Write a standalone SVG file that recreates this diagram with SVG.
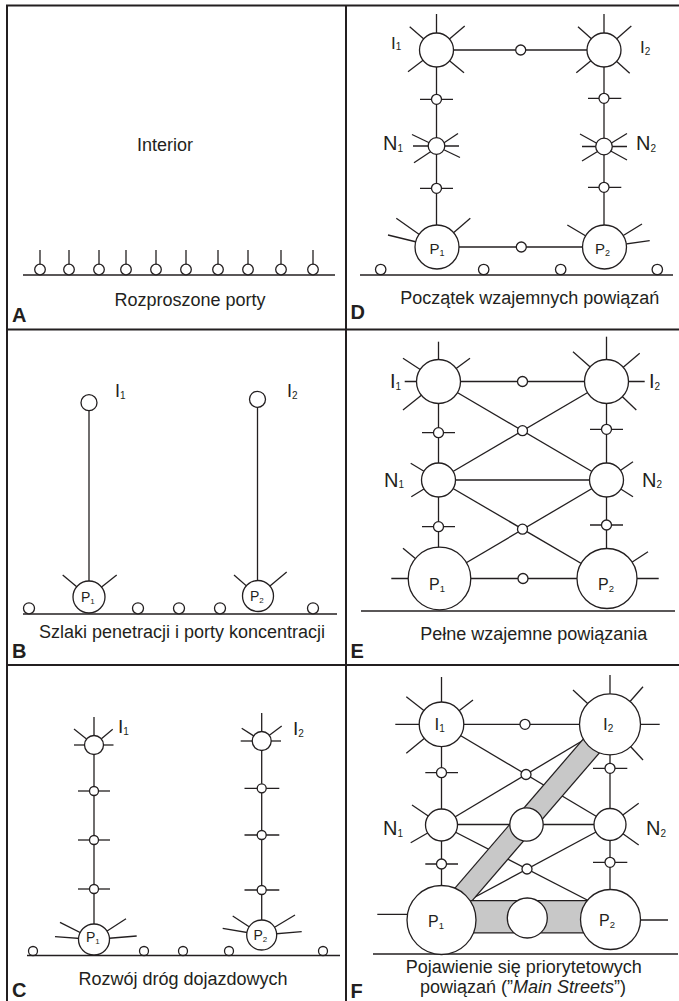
<svg xmlns="http://www.w3.org/2000/svg" width="679" height="1001" viewBox="0 0 679 1001">
<style>
.f{stroke:#231f20;stroke-width:2;fill:none}
.l{stroke:#231f20;stroke-width:1.3;fill:none}
.c{stroke:#231f20;stroke-width:1.3;fill:#fff}
.bk{stroke:#231f20;fill:none}
.gy{stroke:#c8c8c8;fill:none}
text{font-family:"Liberation Sans",Arial,Helvetica,sans-serif;fill:#231f20}
.cap{font-size:18px;text-anchor:middle}
.pl{font-size:20px;font-weight:bold}
.s{font-size:10px}
</style>
<rect x="0" y="0" width="679" height="1001" fill="#fff"/>
<g id="frame">
<line class="f" x1="6" y1="5.5" x2="679" y2="5.5"/>
<line class="f" x1="7" y1="5" x2="7" y2="1001"/>
<line class="f" x1="346" y1="5" x2="346" y2="1001"/>
<line class="f" x1="7" y1="329.5" x2="679" y2="329.5"/>
<line class="f" x1="7" y1="665" x2="679" y2="665"/>
</g>

<!-- Panel A -->
<g id="panel-A">
<g id="A-connectors">
<line class="l" x1="23" y1="275" x2="335" y2="275"/>
<line class="l" x1="40" y1="250" x2="40" y2="265"/>
<line class="l" x1="69" y1="250" x2="69" y2="265"/>
<line class="l" x1="99" y1="250" x2="99" y2="265"/>
<line class="l" x1="126" y1="250" x2="126" y2="265"/>
<line class="l" x1="156" y1="250" x2="156" y2="265"/>
<line class="l" x1="186" y1="250" x2="186" y2="265"/>
<line class="l" x1="218" y1="250" x2="218" y2="265"/>
<line class="l" x1="248" y1="250" x2="248" y2="265"/>
<line class="l" x1="281" y1="250" x2="281" y2="265"/>
<line class="l" x1="313" y1="250" x2="313" y2="265"/>
</g>
<g id="A-ports">
<circle class="c" cx="40" cy="269.5" r="5.3"/>
<circle class="c" cx="69" cy="269.5" r="5.3"/>
<circle class="c" cx="99" cy="269.5" r="5.3"/>
<circle class="c" cx="126" cy="269.5" r="5.3"/>
<circle class="c" cx="156" cy="269.5" r="5.3"/>
<circle class="c" cx="186" cy="269.5" r="5.3"/>
<circle class="c" cx="218" cy="269.5" r="5.3"/>
<circle class="c" cx="248" cy="269.5" r="5.3"/>
<circle class="c" cx="281" cy="269.5" r="5.3"/>
<circle class="c" cx="313" cy="269.5" r="5.3"/>
</g>
<text class="cap" x="165" y="151">Interior</text>
<text class="cap" x="190" y="306">Rozproszone porty</text>
<text class="pl" x="12" y="322">A</text>
</g>

<!-- Panel B -->
<g id="panel-B">
<g id="B-connectors">
<line class="l" x1="23" y1="614" x2="337" y2="614"/>
<line class="l" x1="89" y1="402.7" x2="89" y2="597"/>
<line class="l" x1="257.5" y1="399.3" x2="257.5" y2="596"/>
<line class="l" x1="62.7" y1="575" x2="89" y2="597"/>
<line class="l" x1="116.7" y1="575" x2="89" y2="597"/>
<line class="l" x1="234" y1="575" x2="258" y2="596"/>
<line class="l" x1="286.7" y1="572" x2="258" y2="596"/>
</g>
<g id="B-I1"><circle class="c" cx="89" cy="402.7" r="8"/><text x="115" y="397" font-size="18">I<tspan class="s" dy="1.5">1</tspan></text></g>
<g id="B-I2"><circle class="c" cx="257.5" cy="399.3" r="8"/><text x="287" y="397" font-size="18">I<tspan class="s" dy="1.5">2</tspan></text></g>
<g id="B-P1"><circle class="c" cx="89" cy="597" r="16"/><text x="81" y="601.5" font-size="14">P<tspan font-size="8" dy="2">1</tspan></text></g>
<g id="B-P2"><circle class="c" cx="258" cy="596" r="15.5"/><text x="250" y="600.5" font-size="14">P<tspan font-size="8" dy="2">2</tspan></text></g>
<g id="B-ports">
<circle class="c" cx="29" cy="608.3" r="5.5"/>
<circle class="c" cx="138" cy="608.3" r="5.5"/>
<circle class="c" cx="179" cy="608.3" r="5.5"/>
<circle class="c" cx="220" cy="608.3" r="5.5"/>
<circle class="c" cx="313" cy="608.3" r="5.5"/>
</g>
<text class="cap" x="182" y="638">Szlaki penetracji i porty koncentracji</text>
<text class="pl" x="12" y="658">B</text>
</g>

<!-- Panel C -->
<g id="panel-C">
<g id="C-connectors">
<line class="l" x1="27" y1="955.5" x2="340" y2="955.5"/>
<line class="l" x1="94" y1="745" x2="94" y2="939.5"/>
<line class="l" x1="261.7" y1="741" x2="261.7" y2="935"/>
<line class="l" x1="78" y1="791" x2="110" y2="791"/>
<line class="l" x1="78" y1="840" x2="110" y2="840"/>
<line class="l" x1="78" y1="889" x2="110" y2="889"/>
<line class="l" x1="244.5" y1="788.3" x2="279.3" y2="788.3"/>
<line class="l" x1="244.5" y1="835" x2="279.3" y2="835"/>
<line class="l" x1="244.5" y1="890" x2="279.3" y2="890"/>
</g>
<g id="C-I1">
<line class="l" x1="94" y1="717" x2="94" y2="745"/>
<line class="l" x1="74" y1="729" x2="94" y2="745"/>
<line class="l" x1="112.7" y1="729.3" x2="94" y2="745"/>
<line class="l" x1="74" y1="745" x2="94" y2="745"/>
<line class="l" x1="113.5" y1="745" x2="94" y2="745"/>
<circle class="c" cx="94" cy="745" r="9.5"/>
<text x="118" y="733" font-size="19">I<tspan class="s" dy="1.5">1</tspan></text>
</g>
<g id="C-I2">
<line class="l" x1="261.7" y1="713" x2="261.7" y2="741"/>
<line class="l" x1="241.7" y1="728.3" x2="261.7" y2="741"/>
<line class="l" x1="281.7" y1="726" x2="261.7" y2="741"/>
<line class="l" x1="240.7" y1="741" x2="261.7" y2="741"/>
<line class="l" x1="281" y1="741" x2="261.7" y2="741"/>
<circle class="c" cx="261.7" cy="741" r="9.5"/>
<text x="293" y="735" font-size="19">I<tspan class="s" dy="1.5">2</tspan></text>
</g>
<g id="C-small">
<circle class="c" cx="94" cy="791" r="4.5"/>
<circle class="c" cx="94" cy="840" r="4.5"/>
<circle class="c" cx="94" cy="889" r="4.5"/>
<circle class="c" cx="261.7" cy="788.3" r="4.5"/>
<circle class="c" cx="261.7" cy="835" r="4.5"/>
<circle class="c" cx="261.7" cy="890" r="4.5"/>
</g>
<g id="C-P1">
<line class="l" x1="60" y1="922.3" x2="94" y2="939.5"/>
<line class="l" x1="55" y1="936.7" x2="94" y2="939.5"/>
<line class="l" x1="126" y1="918.7" x2="94" y2="939.5"/>
<line class="l" x1="136.7" y1="936" x2="94" y2="939.5"/>
<circle class="c" cx="94" cy="939.5" r="15.5"/>
<text x="86" y="942" font-size="14">P<tspan font-size="8" dy="2">1</tspan></text>
</g>
<g id="C-P2">
<line class="l" x1="232.7" y1="916" x2="261.7" y2="935"/>
<line class="l" x1="222.7" y1="928.3" x2="261.7" y2="935"/>
<line class="l" x1="295" y1="915" x2="261.7" y2="935"/>
<line class="l" x1="301.7" y1="931.7" x2="261.7" y2="935"/>
<circle class="c" cx="261.7" cy="935" r="15"/>
<text x="253.5" y="939.5" font-size="14">P<tspan font-size="8" dy="2">2</tspan></text>
</g>
<g id="C-ports">
<circle class="c" cx="33" cy="951" r="4.5"/>
<circle class="c" cx="144" cy="951" r="4.5"/>
<circle class="c" cx="183" cy="951" r="4.5"/>
<circle class="c" cx="229" cy="951" r="4.5"/>
<circle class="c" cx="323" cy="951" r="4.5"/>
</g>
<text class="cap" x="183" y="985">Rozwój dróg dojazdowych</text>
<text class="pl" x="12" y="997">C</text>
</g>

<!-- Panel D -->
<g id="panel-D">
<g id="D-connectors">
<line class="l" x1="360" y1="275" x2="673" y2="275"/>
<line class="l" x1="436.5" y1="50" x2="604" y2="50"/>
<line class="l" x1="437" y1="247" x2="604.5" y2="247"/>
<line class="l" x1="436.5" y1="50" x2="436.5" y2="247"/>
<line class="l" x1="604" y1="50" x2="604" y2="247"/>
<line class="l" x1="420" y1="99.3" x2="453" y2="99.3"/>
<line class="l" x1="420" y1="188.3" x2="453" y2="188.3"/>
<line class="l" x1="588" y1="98.3" x2="621.3" y2="98.3"/>
<line class="l" x1="588" y1="187.3" x2="621.3" y2="187.3"/>
</g>
<g id="D-I1">
<line class="l" x1="436.5" y1="14" x2="436.5" y2="50"/>
<line class="l" x1="409.7" y1="26.7" x2="436.5" y2="50"/>
<line class="l" x1="464.7" y1="26" x2="436.5" y2="50"/>
<line class="l" x1="408" y1="71.7" x2="436.5" y2="50"/>
<line class="l" x1="464" y1="72.7" x2="436.5" y2="50"/>
<circle class="c" cx="436.5" cy="50" r="17"/>
<text x="391" y="48.5" font-size="17">I<tspan class="s" dy="1.5">1</tspan></text>
</g>
<g id="D-I2">
<line class="l" x1="604" y1="14" x2="604" y2="50"/>
<line class="l" x1="578" y1="26.7" x2="604" y2="50"/>
<line class="l" x1="631.3" y1="26" x2="604" y2="50"/>
<line class="l" x1="576.3" y1="72.7" x2="604" y2="50"/>
<line class="l" x1="629.7" y1="73.3" x2="604" y2="50"/>
<circle class="c" cx="604" cy="50" r="17"/>
<text x="640" y="53" font-size="17">I<tspan class="s" dy="1.5">2</tspan></text>
</g>
<g id="D-mid">
<circle class="c" cx="520.7" cy="50" r="5"/>
<circle class="c" cx="521.3" cy="247" r="5"/>
<circle class="c" cx="436.5" cy="99.3" r="5"/>
<circle class="c" cx="436.5" cy="188.3" r="5"/>
<circle class="c" cx="604" cy="98.3" r="5"/>
<circle class="c" cx="604" cy="187.3" r="5"/>
</g>
<g id="D-N1">
<line class="l" x1="412" y1="134.5" x2="460" y2="157.5"/>
<line class="l" x1="458" y1="133.5" x2="414" y2="162.7"/>
<line class="l" x1="413" y1="146" x2="459" y2="146"/>
<circle class="c" cx="436.5" cy="146" r="8.3"/>
<text x="383" y="150" font-size="20">N<tspan class="s" dy="1.5">1</tspan></text>
</g>
<g id="D-N2">
<line class="l" x1="580" y1="134" x2="627" y2="160"/>
<line class="l" x1="627" y1="133.5" x2="582" y2="161"/>
<line class="l" x1="582" y1="146.5" x2="627" y2="146.5"/>
<circle class="c" cx="604" cy="146.5" r="8.3"/>
<text x="636" y="150" font-size="20">N<tspan class="s" dy="1.5">2</tspan></text>
</g>
<g id="D-P1">
<line class="l" x1="396.3" y1="218.3" x2="437" y2="247"/>
<line class="l" x1="388" y1="235" x2="437" y2="247"/>
<line class="l" x1="470.3" y1="218.3" x2="437" y2="247"/>
<circle class="c" cx="437" cy="247" r="22"/>
<text x="429.5" y="253.5" font-size="15">P<tspan font-size="9" dy="2">1</tspan></text>
</g>
<g id="D-P2">
<line class="l" x1="567.3" y1="225" x2="604.5" y2="247"/>
<line class="l" x1="642" y1="224" x2="604.5" y2="247"/>
<line class="l" x1="649.7" y1="240.7" x2="604.5" y2="247"/>
<circle class="c" cx="604.5" cy="247" r="22"/>
<text x="595" y="253.5" font-size="15">P<tspan font-size="9" dy="2">2</tspan></text>
</g>
<g id="D-ports">
<circle class="c" cx="380.7" cy="269.5" r="5.2"/>
<circle class="c" cx="483.7" cy="269.5" r="5.2"/>
<circle class="c" cx="560.7" cy="269.5" r="5.2"/>
<circle class="c" cx="657.3" cy="269.5" r="5.2"/>
</g>
<text class="cap" x="529.7" y="303.5">Początek wzajemnych powiązań</text>
<text class="pl" x="350.5" y="319">D</text>
</g>

<!-- Panel E -->
<g id="panel-E">
<g id="E-connectors">
<line class="l" x1="361" y1="611" x2="675" y2="611"/>
<line class="l" x1="438.5" y1="381.5" x2="606.5" y2="381.5"/>
<line class="l" x1="438.5" y1="480" x2="606.5" y2="480"/>
<line class="l" x1="439.5" y1="578.5" x2="607" y2="578.5"/>
<line class="l" x1="438.5" y1="381.5" x2="438.5" y2="578.5"/>
<line class="l" x1="606.5" y1="381.5" x2="606.5" y2="578.5"/>
<line class="l" x1="438.5" y1="381.5" x2="606.5" y2="480"/>
<line class="l" x1="606.5" y1="381.5" x2="438.5" y2="480"/>
<line class="l" x1="438.5" y1="480" x2="607" y2="578.5"/>
<line class="l" x1="606.5" y1="480" x2="439.5" y2="578.5"/>
<line class="l" x1="422" y1="432.7" x2="455" y2="432.7"/>
<line class="l" x1="422" y1="526.7" x2="455" y2="526.7"/>
<line class="l" x1="590" y1="429.3" x2="623" y2="429.3"/>
<line class="l" x1="590" y1="525" x2="623" y2="525"/>
</g>
<g id="E-I1">
<line class="l" x1="438.5" y1="341.7" x2="438.5" y2="381.5"/>
<line class="l" x1="403" y1="358.3" x2="438.5" y2="381.5"/>
<line class="l" x1="470" y1="358.3" x2="438.5" y2="381.5"/>
<line class="l" x1="404.7" y1="381.5" x2="438.5" y2="381.5"/>
<line class="l" x1="403" y1="410" x2="438.5" y2="381.5"/>
<circle class="c" cx="438.5" cy="381.5" r="22"/>
<text x="390" y="388.3" font-size="20">I<tspan class="s" dy="1.5">1</tspan></text>
</g>
<g id="E-I2">
<line class="l" x1="606.5" y1="336.7" x2="606.5" y2="381.5"/>
<line class="l" x1="573" y1="351.7" x2="606.5" y2="381.5"/>
<line class="l" x1="639.7" y1="353.3" x2="606.5" y2="381.5"/>
<line class="l" x1="644.7" y1="381.5" x2="606.5" y2="381.5"/>
<line class="l" x1="636.3" y1="410" x2="606.5" y2="381.5"/>
<circle class="c" cx="606.5" cy="381.5" r="22"/>
<text x="649" y="388.3" font-size="20">I<tspan class="s" dy="1.5">2</tspan></text>
</g>
<g id="E-N1">
<line class="l" x1="410.7" y1="463.3" x2="438.5" y2="480"/>
<line class="l" x1="411.3" y1="496.7" x2="438.5" y2="480"/>
<circle class="c" cx="438.5" cy="480" r="17"/>
<text x="384" y="486.7" font-size="20">N<tspan class="s" dy="1.5">1</tspan></text>
</g>
<g id="E-N2">
<line class="l" x1="633" y1="461.7" x2="606.5" y2="480"/>
<line class="l" x1="633" y1="496.7" x2="606.5" y2="480"/>
<circle class="c" cx="606.5" cy="480" r="17"/>
<text x="642" y="486.7" font-size="20">N<tspan class="s" dy="1.5">2</tspan></text>
</g>
<g id="E-P1">
<line class="l" x1="403" y1="548.3" x2="439.5" y2="578.5"/>
<line class="l" x1="391.3" y1="578.5" x2="439.5" y2="578.5"/>
<circle class="c" cx="439.5" cy="578.5" r="31.3"/>
<text x="429" y="590" font-size="16">P<tspan font-size="9.5" dy="2">1</tspan></text>
</g>
<g id="E-P2">
<line class="l" x1="648" y1="551.7" x2="607" y2="578.5"/>
<line class="l" x1="658.7" y1="578.5" x2="607" y2="578.5"/>
<circle class="c" cx="607" cy="578.5" r="30"/>
<text x="598" y="590" font-size="16">P<tspan font-size="9.5" dy="2">2</tspan></text>
</g>
<g id="E-mid">
<circle class="c" cx="522.5" cy="381.5" r="5"/>
<circle class="c" cx="522.5" cy="430.7" r="5"/>
<circle class="c" cx="522.5" cy="529.2" r="5"/>
<circle class="c" cx="523" cy="578.5" r="5"/>
<circle class="c" cx="438.5" cy="432.7" r="5"/>
<circle class="c" cx="438.5" cy="526.7" r="5"/>
<circle class="c" cx="606.5" cy="429.3" r="5"/>
<circle class="c" cx="606.5" cy="525" r="5"/>
</g>
<text class="cap" x="533.8" y="640">Pełne wzajemne powiązania</text>
<text class="pl" x="350.5" y="658.3">E</text>
</g>

<!-- Panel F -->
<g id="panel-F">
<g id="F-connectors">
<line class="l" x1="373" y1="954" x2="678" y2="954"/>
<line class="l" x1="441.5" y1="724.3" x2="610" y2="724.3"/>
<line class="l" x1="441.5" y1="824.5" x2="610" y2="824.5"/>
<line class="l" x1="441.5" y1="724.3" x2="441.5" y2="920"/>
<line class="l" x1="610" y1="724.3" x2="610" y2="919.5"/>
<line class="l" x1="441.5" y1="724.3" x2="610" y2="824.5"/>
<line class="l" x1="441.5" y1="825" x2="610" y2="724.3"/>
<line class="l" x1="441.5" y1="825" x2="610.5" y2="912"/>
<line class="l" x1="610" y1="824.5" x2="441.5" y2="915"/>
<line class="l" x1="425.3" y1="772.7" x2="458" y2="772.7"/>
<line class="l" x1="425.3" y1="864" x2="458" y2="864"/>
<line class="l" x1="593" y1="768.3" x2="627.3" y2="768.3"/>
<line class="l" x1="593" y1="862.3" x2="627.3" y2="862.3"/>
<g id="F-main-streets">
<line class="bk" stroke-width="22.5" x1="441.5" y1="920" x2="610" y2="724.3"/>
<line class="gy" stroke-width="20" x1="441.5" y1="920" x2="610" y2="724.3"/>
<line class="bk" stroke-width="33.5" x1="441.5" y1="916.7" x2="610.5" y2="916.7"/>
<line class="gy" stroke-width="31" x1="441.5" y1="916.7" x2="610.5" y2="916.7"/>
</g>
</g>
<g id="F-I1">
<line class="l" x1="441.5" y1="677" x2="441.5" y2="724.3"/>
<line class="l" x1="406.3" y1="696.7" x2="441.5" y2="724.3"/>
<line class="l" x1="473" y1="700" x2="441.5" y2="724.3"/>
<line class="l" x1="395.3" y1="724.3" x2="441.5" y2="724.3"/>
<line class="l" x1="406.3" y1="753.3" x2="441.5" y2="724.3"/>
<circle class="c" cx="441.5" cy="724.3" r="22.3"/>
<text x="434.5" y="730" font-size="17">I<tspan class="s" dy="1.5">1</tspan></text>
</g>
<g id="F-I2">
<line class="l" x1="610" y1="675" x2="610" y2="724.3"/>
<line class="l" x1="573" y1="690" x2="610" y2="724.3"/>
<line class="l" x1="643" y1="686.7" x2="610" y2="724.3"/>
<line class="l" x1="659.7" y1="724.3" x2="610" y2="724.3"/>
<line class="l" x1="643" y1="760" x2="610" y2="724.3"/>
<circle class="c" cx="610" cy="724.3" r="30.5"/>
<text x="603" y="730" font-size="17">I<tspan class="s" dy="1.5">2</tspan></text>
</g>
<g id="F-N1">
<line class="l" x1="412" y1="805" x2="441.5" y2="825"/>
<line class="l" x1="410.7" y1="842.7" x2="441.5" y2="825"/>
<circle class="c" cx="441.5" cy="825" r="16"/>
<text x="383" y="835" font-size="20">N<tspan class="s" dy="1.5">1</tspan></text>
</g>
<g id="F-N2">
<line class="l" x1="638.7" y1="803.3" x2="610" y2="824.5"/>
<line class="l" x1="638.7" y1="845" x2="610" y2="824.5"/>
<circle class="c" cx="610" cy="824.5" r="16"/>
<text x="646" y="835" font-size="20">N<tspan class="s" dy="1.5">2</tspan></text>
</g>
<g id="F-M"><circle class="c" cx="526.5" cy="824.5" r="16.7"/></g>
<g id="F-P1">
<line class="l" x1="377.3" y1="914.3" x2="420" y2="914.3"/>
<circle class="c" cx="441.5" cy="920" r="34.5"/>
<text x="428" y="926.7" font-size="16">P<tspan font-size="9.5" dy="2">1</tspan></text>
</g>
<g id="F-P2">
<line class="l" x1="668" y1="920" x2="625" y2="920"/>
<circle class="c" cx="610.5" cy="919.5" r="30"/>
<text x="599" y="926" font-size="16">P<tspan font-size="9.5" dy="2">2</tspan></text>
</g>
<g id="F-PM"><circle class="c" cx="527.3" cy="918" r="20"/></g>
<g id="F-mid">
<circle class="c" cx="525" cy="724.3" r="5"/>
<circle class="c" cx="526" cy="774.5" r="5"/>
<circle class="c" cx="527" cy="869" r="5"/>
<circle class="c" cx="441.5" cy="772.7" r="5"/>
<circle class="c" cx="441.5" cy="864" r="5"/>
<circle class="c" cx="610" cy="768.3" r="5"/>
<circle class="c" cx="610" cy="862.3" r="5"/>
</g>
<text class="cap" x="523.8" y="973.3">Pojawienie się priorytetowych</text>
<text class="cap" x="523" y="993.3">powiązań (”<tspan font-style="italic">Main Streets</tspan>”)</text>
<text class="pl" x="350.5" y="998">F</text>
</g>
</svg>
